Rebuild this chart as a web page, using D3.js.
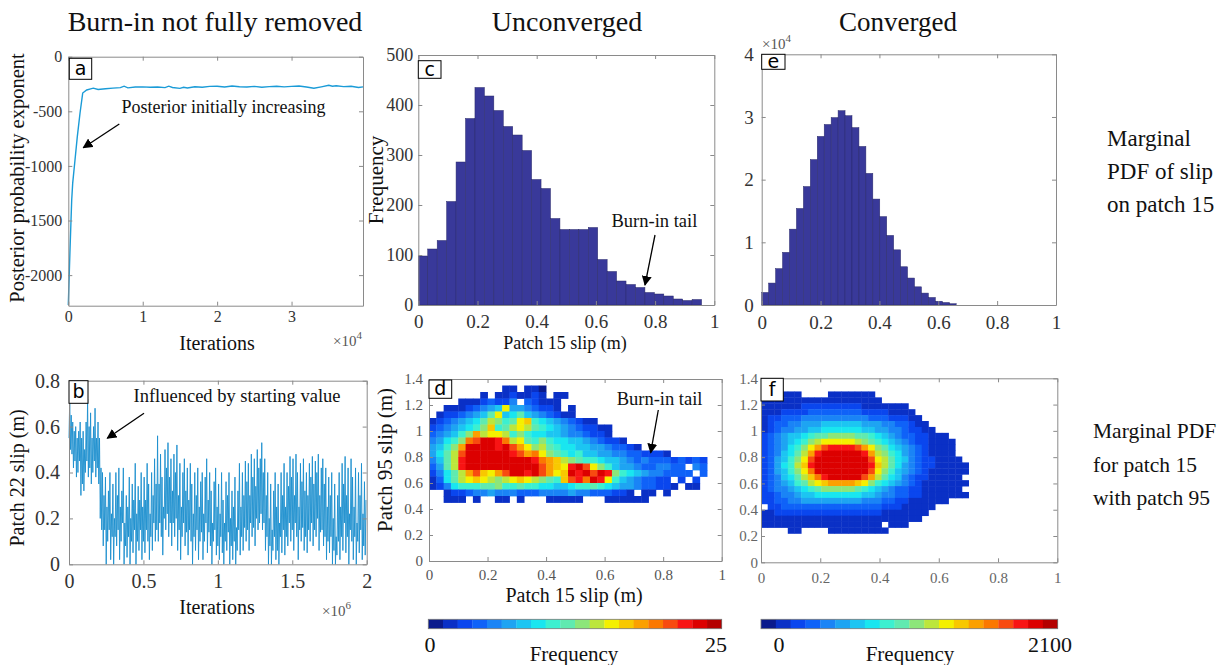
<!DOCTYPE html>
<html>
<head>
<meta charset="utf-8">
<script src="https://cdn.jsdelivr.net/npm/d3@7"></script>
<style>
body { margin: 0; background: #fff; }
text { font-family: "Liberation Serif", "Times New Roman", serif; }
</style>
</head>
<body>
<div id="container"></div>
<script>
const width = 1220;
const height = 665;
const serif = "Liberation Serif";

// (a) posterior probability exponent vs iterations
const aIter = [0, 228, 457, 591, 900, 1210, 1573, 1935, 2473, 3000, 3360, 4000, 5000, 6000, 7000, 7500, 8000, 9000, 10000, 11000,
    12000, 13000, 13500, 14000, 15000, 15500, 16000, 17000, 18000, 19000, 20000, 21000, 22000, 23000, 24000, 25000, 26000, 27000, 28000, 29000,
    30000, 31000, 32000, 33000, 34000, 35000, 35500, 36000, 37000, 38000, 39000, 39600];
const aExp = [-2274, -1770, -1312, -1158, -946, -732, -518, -333, -305, -295, -288, -300, -293, -288, -283, -270, -285, -278, -276, -280,
    -278, -283, -270, -282, -290, -280, -286, -275, -280, -272, -270, -277, -268, -275, -278, -272, -280, -274, -270, -276,
    -272, -268, -278, -289, -276, -262, -270, -266, -274, -270, -282, -276];

// (b) patch 22 slip: low / high of the trace in each 10000-iteration window
const bStep = 10000;
const bHi = [
    0.72, 0.65, 0.62, 0.58, 0.60, 0.55, 0.58, 0.62, 0.55, 0.58,
    0.50, 0.62, 0.72, 0.60, 0.66, 0.55, 0.60, 0.68, 0.55, 0.62,
    0.55, 0.42, 0.40, 0.30, 0.38, 0.25, 0.32, 0.40, 0.22, 0.35,
    0.20, 0.40, 0.30, 0.42, 0.25, 0.32, 0.42, 0.18, 0.30, 0.25,
    0.38, 0.20, 0.35, 0.28, 0.44, 0.22, 0.34, 0.28, 0.40, 0.25,
    0.38, 0.28, 0.44, 0.35, 0.22, 0.40, 0.30, 0.46, 0.35, 0.56,
    0.35, 0.48, 0.38, 0.25, 0.50, 0.42, 0.53, 0.38, 0.46, 0.32,
    0.48, 0.40, 0.52, 0.30, 0.44, 0.25, 0.40, 0.46, 0.32, 0.42,
    0.28, 0.44, 0.35, 0.22, 0.40, 0.30, 0.42, 0.25, 0.36, 0.40,
    0.22, 0.38, 0.46, 0.28, 0.40, 0.32, 0.18, 0.36, 0.42, 0.25,
    0.35, 0.22, 0.40, 0.28, 0.18, 0.36, 0.30, 0.40, 0.20, 0.32,
    0.25, 0.38, 0.16, 0.32, 0.44, 0.25, 0.40, 0.30, 0.45, 0.36,
    0.44, 0.30, 0.48, 0.38, 0.46, 0.34, 0.50, 0.42, 0.46, 0.53,
    0.40, 0.46, 0.30, 0.40, 0.20, 0.35, 0.15, 0.32, 0.40, 0.25,
    0.35, 0.18, 0.40, 0.30, 0.44, 0.25, 0.40, 0.34, 0.47, 0.38,
    0.46, 0.30, 0.48, 0.40, 0.25, 0.44, 0.36, 0.46, 0.32, 0.40,
    0.30, 0.44, 0.38, 0.47, 0.35, 0.45, 0.40, 0.48, 0.30, 0.42,
    0.46, 0.35, 0.42, 0.25, 0.38, 0.30, 0.40, 0.20, 0.35, 0.12,
    0.30, 0.40, 0.25, 0.44, 0.35, 0.47, 0.30, 0.42, 0.22, 0.46,
    0.38, 0.25, 0.42, 0.18, 0.40, 0.30, 0.44, 0.22, 0.36, 0.28];
const bLo = [
    0.55, 0.50, 0.48, 0.42, 0.45, 0.38, 0.40, 0.45, 0.30, 0.35,
    0.32, 0.40, 0.45, 0.38, 0.42, 0.35, 0.40, 0.45, 0.38, 0.42,
    0.35, 0.20, 0.15, 0.08, 0.15, 0.00, 0.10, 0.15, 0.02, 0.12,
    0.00, 0.12, 0.08, 0.15, 0.02, 0.10, 0.18, 0.00, 0.08, 0.03,
    0.12, 0.00, 0.10, 0.05, 0.15, 0.00, 0.10, 0.06, 0.15, 0.02,
    0.10, 0.05, 0.15, 0.10, 0.02, 0.12, 0.06, 0.18, 0.10, 0.15,
    0.10, 0.18, 0.12, 0.04, 0.20, 0.15, 0.22, 0.12, 0.18, 0.08,
    0.18, 0.12, 0.20, 0.06, 0.15, 0.02, 0.12, 0.18, 0.08, 0.14,
    0.04, 0.15, 0.10, 0.00, 0.12, 0.06, 0.15, 0.02, 0.10, 0.14,
    0.02, 0.10, 0.18, 0.05, 0.14, 0.08, 0.00, 0.10, 0.15, 0.04,
    0.08, 0.02, 0.12, 0.05, 0.00, 0.10, 0.06, 0.14, 0.00, 0.08,
    0.02, 0.10, 0.00, 0.06, 0.15, 0.04, 0.12, 0.06, 0.16, 0.10,
    0.15, 0.06, 0.18, 0.12, 0.16, 0.08, 0.20, 0.15, 0.18, 0.22,
    0.15, 0.18, 0.06, 0.12, 0.00, 0.08, 0.00, 0.06, 0.12, 0.02,
    0.06, 0.00, 0.12, 0.05, 0.15, 0.04, 0.12, 0.08, 0.18, 0.10,
    0.15, 0.06, 0.18, 0.12, 0.02, 0.15, 0.10, 0.16, 0.06, 0.12,
    0.05, 0.15, 0.10, 0.18, 0.08, 0.15, 0.12, 0.20, 0.06, 0.14,
    0.15, 0.08, 0.12, 0.02, 0.10, 0.05, 0.12, 0.00, 0.06, 0.00,
    0.04, 0.10, 0.02, 0.12, 0.06, 0.18, 0.05, 0.12, 0.00, 0.15,
    0.10, 0.02, 0.12, 0.00, 0.10, 0.05, 0.15, 0.02, 0.08, 0.04];

// (c) unconverged histogram of patch 15 slip
const cBinWidth = 0.0319;
const cCounts = [98, 112, 129, 207, 286, 373, 435, 418, 389, 357, 340, 309, 251, 233, 173,
    151, 151, 151, 155, 91, 67, 48, 41, 35, 25, 22, 18, 12, 9, 11];

// (e) converged histogram of patch 15 slip
const eBinWidth = 0.0236;
const eCounts = [2000, 3500, 5800, 8400, 12100, 15400, 18900, 23200, 26900, 28800, 29900, 31000, 30200, 28300,
    25300, 21000, 16900, 14100, 11100, 8800, 6100, 4300, 2900, 1900, 1200, 600, 400, 200];

// (d) and (f) 2D histograms: one char per cell, "." = empty, "1".."K" = colour step 1..20
const levelChars = "123456789ABCDEFGHIJK";
const dMax = 25;
const dBinX = 0.025, dBinY = 0.05, dTop = 1.35;
const dRows = [
    "..........22.221",
    ".......2.2232232.22",
    "....22234335.43222",
    "..22234567D6654332.2",
    ".2334567AD78A7654322",
    "2345678ACB9ADE987654322",
    "3456789BE9ACDCA9876543322",
    "45679BFCDDC9B988776554332",
    "5689BGHJJIGCDA9B98877654332",
    "679BFJJJJIJHFDBCA988776654432",
    "68ACHJJJJJJIHFGDBA989776655443332",
    "57ACIJJJJJJJJJIGFECBA99877654544434343",
    "46ACIJJJJJJJJJJHFEDIJHDB97665445544.54",
    "358ACFHEDFHJJIJHFDEJIJHJIB9876554444.4",
    "248ACDEDCBCDEDCBA9EHIGJID97654433.3.3.",
    "2358999AAB99A998877899A98766544332.22.",
    "..23345565554445555655444332.22.2",
    "..222.2..22.2...22222...222222"];
const fMax = 2100;
const fBinX = 0.0226, fBinY = 0.045, fTop = 1.30;
const fRows = [
    ".22222....2222222",
    "222222222222222222",
    "2222223333333332222222",
    "22233334444444433332222",
    "233444555555555544433322",
    "2344556667777776665544322",
    "23455667788888877665543322",
    "34567789AABBBBAA987654433222",
    "3456789BCDDDDDCBA987654332222",
    "345689BDFHIIIIHFDBA8765432222",
    "34578ACFIJJJJJJIFCB9865432222",
    "34679BDHJJJJJJJJHDCA8754332222",
    "34689CEIJJJJJJJJIECA86543322222",
    "34679BDGJJJJJJJJHDB976543222222",
    "34578ACEGIJJJJJHFCA87543322222",
    "345679ACDEFFFFEDB98765432222222",
    "34556789ABBBBBA987654433222222",
    "3345567788888887765544332222222",
    "3344556666666665554433222222",
    ".3344444444444444433322222",
    "2233333333333333332222222",
    "222222222222222222222222",
    "222222222222222222.222",
    "....22....222222222"];

const xTicks = [0, 0.2, 0.4, 0.6, 0.8, 1];
const yTicks2d = [0, 0.2, 0.4, 0.6, 0.8, 1, 1.2, 1.4];

const jet = ["#0a1a8c", "#0a30c6", "#0a46ee", "#0f62f8", "#1a84f6", "#1ea4f2", "#1cc5f2", "#19e6f0", "#3cf0d0", "#60eab0",
    "#8ce67a", "#bce63c", "#f4f000", "#f8c800", "#fba000", "#fb7800", "#f84a10", "#f81414", "#dc0000", "#b40000"];

const svg = d3.select("#container")
    .append("svg")
    .attr("width", width)
    .attr("height", height)
    .style("background", "#fff");

const defs = svg.append("defs");
defs.append("marker")
    .attr("id", "arrow")
    .attr("viewBox", "0 0 10 10")
    .attr("refX", 9).attr("refY", 5)
    .attr("markerWidth", 10).attr("markerHeight", 10)
    .attr("markerUnits", "userSpaceOnUse")
    .attr("orient", "auto")
    .append("path")
    .attr("d", "M0,0 L10,5 L0,10 z")
    .attr("fill", "#000");

function axes(x, y, o) {
    const [x0, x1] = x.range();
    const [y0, y1] = y.range();
    const g = svg.append("g");
    const style = (s, fs) => {
        s.attr("font-family", serif).attr("font-size", fs);
        s.select(".domain").attr("stroke", "#8a8a8a");
        s.selectAll(".tick line").attr("stroke", "#8a8a8a");
        s.selectAll(".tick text").attr("fill", o.color || "#333");
    };
    g.append("g").attr("transform", `translate(0,${y0})`)
        .call(d3.axisBottom(x).tickValues(o.xt).tickFormat(o.xf).tickSize(-4).tickSizeOuter(0).tickPadding(o.xpad))
        .call(style, o.xfs);
    g.append("g").attr("transform", `translate(${x0},0)`)
        .call(d3.axisLeft(y).tickValues(o.yt).tickFormat(o.yf).tickSize(-4).tickSizeOuter(0).tickPadding(o.ypad))
        .call(style, o.yfs);
    g.append("g").attr("transform", `translate(0,${y1})`)
        .call(d3.axisTop(x).tickValues(o.xt).tickFormat("").tickSize(-4).tickSizeOuter(0))
        .call(style, 10);
    g.append("g").attr("transform", `translate(${x1},0)`)
        .call(d3.axisRight(y).tickValues(o.yt).tickFormat("").tickSize(-4).tickSizeOuter(0))
        .call(style, 10);
}

function tag(x, y, w, h, letter) {
    svg.append("rect").attr("x", x).attr("y", y).attr("width", w).attr("height", h)
        .attr("fill", "#fff").attr("stroke", "#000").attr("stroke-width", 1);
    svg.append("text").attr("x", x + w / 2).attr("y", y + h / 2 + 6)
        .attr("text-anchor", "middle").attr("font-size", 19)
        .style("font-family", "DejaVu Sans, sans-serif").text(letter);
}

function label(x, y, txt, fs, anchor, rot) {
    const t = svg.append("text").attr("font-size", fs).attr("fill", "#111")
        .attr("text-anchor", anchor || "middle").text(txt);
    if (rot) t.attr("transform", `translate(${x},${y}) rotate(-90)`);
    else t.attr("x", x).attr("y", y);
    return t;
}

function times10(x, y, p) {
    const t = svg.append("text").attr("x", x).attr("y", y).attr("font-size", 15).attr("fill", "#555");
    t.append("tspan").text("\u00d710");
    t.append("tspan").attr("dy", -7).attr("font-size", 11).text(p);
}

function arrow(x1, y1, x2, y2) {
    svg.append("line").attr("x1", x1).attr("y1", y1).attr("x2", x2).attr("y2", y2)
        .attr("stroke", "#000").attr("stroke-width", 1.3).attr("marker-end", "url(#arrow)");
}

const fmt = (d) => String(d);
const line = (x, y) => d3.line().x((d) => x(d[0])).y((d) => y(d[1]));

// ---- titles
label(215, 31, "Burn-in not fully removed", 28);
label(567, 31, "Unconverged", 28);
label(898, 31, "Converged", 27);

// ---- (a)
{
    const x = d3.scaleLinear().domain([0, 39600]).range([68.3, 363]);
    const y = d3.scaleLinear().domain([-2280, 0]).range([305.7, 56.7]);
    svg.append("path").datum(d3.zip(aIter, aExp))
        .attr("d", line(x, y)).attr("fill", "none").attr("stroke", "#1a9bd7").attr("stroke-width", 1.4);
    axes(x, y, { xt: [0, 10000, 20000, 30000], xf: (d) => d / 1e4, xpad: 5, xfs: 16,
        yt: [0, -500, -1000, -1500, -2000], yf: fmt, ypad: 6, yfs: 16 });
    tag(69.3, 58.3, 22.4, 21, "a");
    label(121.5, 113, "Posterior initially increasing", 18, "start");
    arrow(119.3, 124, 83.3, 147.7);
    label(217, 350, "Iterations", 20);
    times10(333, 346, "4");
    label(24, 178, "Posterior probability exponent", 20.5, "middle", true);
}

// ---- (b)
{
    const x = d3.scaleLinear().domain([0, 2e6]).range([69, 366.7]);
    const y = d3.scaleLinear().domain([0, 0.8]).range([564.3, 380.7]);
    const pts = [];
    bLo.forEach((lo, i) => {
        pts.push([i * bStep, lo]);
        pts.push([i * bStep + bStep / 2, bHi[i]]);
    });
    svg.append("path").datum(pts)
        .attr("d", line(x, y)).attr("fill", "none").attr("stroke", "#1c8fce").attr("stroke-width", 0.9);
    axes(x, y, { xt: [0, 5e5, 1e6, 1.5e6, 2e6], xf: (d) => d / 1e6, xpad: 10, xfs: 20,
        yt: [0, 0.2, 0.4, 0.6, 0.8], yf: fmt, ypad: 9, yfs: 20 });
    tag(69, 380.7, 19, 22.6, "b");
    label(133.5, 402, "Influenced by starting value", 18.5, "start");
    arrow(144, 413.3, 107.3, 438.3);
    label(217, 614, "Iterations", 20);
    times10(322, 616, "6");
    label(24, 478, "Patch 22 slip (m)", 20, "middle", true);
}

// ---- (c)
{
    const x = d3.scaleLinear().domain([0, 1]).range([418.3, 714.3]);
    const y = d3.scaleLinear().domain([0, 500]).range([305, 55]);
    svg.append("g").selectAll("rect").data(cCounts).enter().append("rect")
        .attr("x", (d, i) => x(i * cBinWidth))
        .attr("width", x(cBinWidth) - x(0))
        .attr("y", (d) => y(d))
        .attr("height", (d) => y(0) - y(d))
        .attr("fill", "#39399a").attr("stroke", "#2a2a6a").attr("stroke-width", 0.5);
    axes(x, y, { xt: xTicks, xf: fmt, xpad: 10, xfs: 19,
        yt: [0, 100, 200, 300, 400, 500], yf: fmt, ypad: 5, yfs: 18 });
    tag(418.3, 60.7, 22.7, 17.6, "c");
    label(611.5, 227, "Burn-in tail", 18.5, "start");
    arrow(655, 235, 645, 285);
    label(565, 349, "Patch 15 slip (m)", 18);
    label(383, 180, "Frequency", 21, "middle", true);
}

// ---- (e)
{
    const x = d3.scaleLinear().domain([0, 1]).range([761.7, 1056]);
    const y = d3.scaleLinear().domain([0, 40000]).range([305, 54.3]);
    svg.append("g").selectAll("rect").data(eCounts).enter().append("rect")
        .attr("x", (d, i) => x(i * eBinWidth))
        .attr("width", x(eBinWidth) - x(0))
        .attr("y", (d) => y(d))
        .attr("height", (d) => y(0) - y(d))
        .attr("fill", "#39399a").attr("stroke", "#2a2a6a").attr("stroke-width", 0.5);
    axes(x, y, { xt: xTicks, xf: fmt, xpad: 11, xfs: 19,
        yt: [0, 10000, 20000, 30000, 40000], yf: (d) => d / 1e4, ypad: 8, yfs: 19 });
    tag(761.7, 54.3, 23.3, 15, "e");
    times10(762, 49, "4");
}

// ---- 2D histograms
function heat(rows, bx, by, top, max, x, y) {
    const color = d3.scaleQuantize().domain([0, max]).range(jet);
    const cells = [];
    rows.forEach((r, k) => {
        r.split("").forEach((ch, j) => {
            const lv = levelChars.indexOf(ch) + 1;
            if (lv > 0) cells.push({ j, k, v: (lv - 0.5) / 20 * max });
        });
    });
    svg.append("g").selectAll("rect").data(cells).enter().append("rect")
        .attr("x", (d) => x(d.j * bx))
        .attr("width", x(bx) - x(0) + 0.4)
        .attr("y", (d) => y(top - d.k * by))
        .attr("height", y(0) - y(by) + 0.4)
        .attr("fill", (d) => color(d.v));
    return color;
}

function colorbar(x0, x1, max, zeroX, maxX, labX) {
    const band = d3.scaleBand().domain(d3.range(jet.length)).range([x0, x1]);
    const g = svg.append("g");
    g.selectAll("rect").data(jet).enter().append("rect")
        .attr("x", (d, i) => band(i)).attr("width", band.bandwidth() + 0.3)
        .attr("y", 619.3).attr("height", 9.4).attr("fill", (d) => d);
    g.append("rect").attr("x", x0).attr("y", 619.3).attr("width", x1 - x0).attr("height", 9.4)
        .attr("fill", "none").attr("stroke", "#777").attr("stroke-width", 0.8);
    label(zeroX, 652, "0", 22);
    label(maxX, 652, String(max), 22);
    label(labX, 661, "Frequency", 21);
}

// ---- (d)
{
    const x = d3.scaleLinear().domain([0, 1]).range([429, 721.7]);
    const y = d3.scaleLinear().domain([0, 1.4]).range([561, 379]);
    heat(dRows, dBinX, dBinY, dTop, dMax, x, y);
    axes(x, y, { xt: xTicks, xf: fmt, xpad: 8, xfs: 15, color: "#555",
        yt: yTicks2d, yf: fmt, ypad: 6, yfs: 15 });
    tag(429, 380, 22.7, 18.3, "d");
    label(616.7, 405, "Burn-in tail", 18.5, "start");
    arrow(658.3, 410, 650.7, 452.7);
    label(574, 602, "Patch 15 slip (m)", 20);
    label(392, 460, "Patch 95 slip (m)", 21, "middle", true);
    colorbar(428.3, 721.7, dMax, 430, 716, 574);
}

// ---- (f)
{
    const x = d3.scaleLinear().domain([0, 1]).range([761, 1057.3]);
    const y = d3.scaleLinear().domain([0, 1.4]).range([562.3, 378.3]);
    heat(fRows, fBinX, fBinY, fTop, fMax, x, y);
    axes(x, y, { xt: xTicks, xf: fmt, xpad: 10, xfs: 15, color: "#666",
        yt: yTicks2d, yf: fmt, ypad: 3, yfs: 15 });
    tag(761, 378.3, 22.3, 22.7, "f");
    colorbar(761, 1057.7, fMax, 779, 1050, 910);
}

// ---- side notes
label(1107, 146, "Marginal", 23, "start");
label(1107, 179, "PDF of slip", 23, "start");
label(1107, 212, "on patch 15", 23, "start");
label(1093, 438, "Marginal PDF", 21.5, "start");
label(1093, 472, "for patch 15", 21.5, "start");
label(1093, 505, "with patch 95", 21.5, "start");
</script>
</body>
</html>
